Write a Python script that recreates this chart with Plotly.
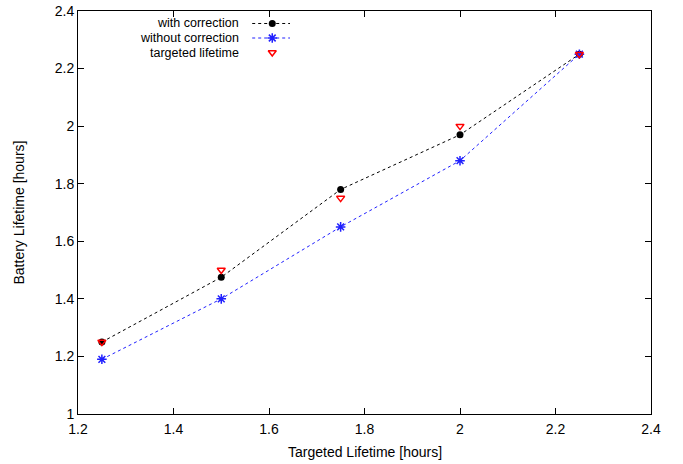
import plotly.graph_objects as go

x_vals = [1.25, 1.5, 1.75, 2.0, 2.25]
with_corr = [1.25, 1.475, 1.78, 1.97, 2.25]
without_corr = [1.19, 1.40, 1.65, 1.88, 2.25]
targeted = [1.25, 1.5, 1.75, 2.0, 2.25]
names = ["with correction", "without correction", "targeted lifetime"]
x_ticks = [1.2, 1.4, 1.6, 1.8, 2.0, 2.2, 2.4]
x_tick_text = ["1.2", "1.4", "1.6", "1.8", "2", "2.2", "2.4"]
y_ticks = [1.0, 1.2, 1.4, 1.6, 1.8, 2.0, 2.2, 2.4]
y_tick_text = ["1", "1.2", "1.4", "1.6", "1.8", "2", "2.2", "2.4"]

FONT = "Liberation Sans, Arial, Helvetica, sans-serif"
FS = 14
LFS = 12.5

fig = go.Figure()
fig.add_trace(go.Scatter(x=x_vals, y=with_corr, mode="lines+markers", name=names[0],
                         line=dict(color="black", width=1, dash="dot"),
                         marker=dict(symbol="circle", size=7, color="black")))
fig.add_trace(go.Scatter(x=x_vals, y=without_corr, mode="lines+markers", name=names[1],
                         line=dict(color="#2020ff", width=1, dash="dot"),
                         marker=dict(symbol="asterisk-open", size=8, color="#2020ff",
                                     line=dict(color="#2020ff", width=1.5))))
fig.add_trace(go.Scatter(x=x_vals, y=targeted, mode="markers", name=names[2],
                         marker=dict(symbol="triangle-down-open", size=7, color="red",
                                     line=dict(color="red", width=1.5))))

# legend samples (gnuplot style: text left, sample right)
leg_y = [0.969, 0.933, 0.897]
fig.add_trace(go.Scatter(x=[0.304, 0.339, 0.370], y=[leg_y[0]] * 3, xaxis="x2", yaxis="y2",
                         mode="lines", line=dict(color="black", width=1, dash="dot"),
                         showlegend=False, hoverinfo="skip"))
fig.add_trace(go.Scatter(x=[0.339], y=[leg_y[0]], xaxis="x2", yaxis="y2", mode="markers",
                         marker=dict(symbol="circle", size=7, color="black"),
                         showlegend=False, hoverinfo="skip"))
fig.add_trace(go.Scatter(x=[0.304, 0.339, 0.370], y=[leg_y[1]] * 3, xaxis="x2", yaxis="y2",
                         mode="lines", line=dict(color="#2020ff", width=1, dash="dot"),
                         showlegend=False, hoverinfo="skip"))
fig.add_trace(go.Scatter(x=[0.339], y=[leg_y[1]], xaxis="x2", yaxis="y2", mode="markers",
                         marker=dict(symbol="asterisk-open", size=8, color="#2020ff",
                                     line=dict(color="#2020ff", width=1.5)),
                         showlegend=False, hoverinfo="skip"))
fig.add_trace(go.Scatter(x=[0.339], y=[leg_y[2]], xaxis="x2", yaxis="y2", mode="markers",
                         marker=dict(symbol="triangle-down-open", size=7, color="red",
                                     line=dict(color="red", width=1.5)),
                         showlegend=False, hoverinfo="skip"))

annotations = []
for name, yy in zip(names, leg_y):
    annotations.append(dict(text=name, x=0.285, y=yy, xref="paper", yref="paper",
                            xanchor="right", yanchor="middle", showarrow=False,
                            font=dict(family=FONT, size=LFS, color="black")))
annotations.append(dict(text="Targeted Lifetime [hours]", x=0.5, y=0, xref="paper", yref="paper",
                        xanchor="center", yanchor="middle", yshift=-38, showarrow=False,
                        font=dict(family=FONT, size=FS, color="black")))
annotations.append(dict(text="Battery Lifetime [hours]", x=0, y=0.5, xref="paper", yref="paper",
                        xanchor="center", yanchor="middle", xshift=-60, textangle=-90,
                        showarrow=False, font=dict(family=FONT, size=FS, color="black")))

axis_common = dict(showline=True, linecolor="black", linewidth=1, mirror="ticks",
                   ticks="inside", ticklen=6, tickcolor="black", showgrid=False,
                   zeroline=False, automargin=False,
                   tickfont=dict(family=FONT, size=FS, color="black"))

fig.update_layout(
    width=683, height=464,
    margin=dict(l=78, r=32, t=11, b=50),
    plot_bgcolor="white", paper_bgcolor="white",
    showlegend=False,
    annotations=annotations,
    xaxis=dict(range=[1.2, 2.4], tickvals=x_ticks, ticktext=x_tick_text,
               ticklabelstandoff=2, **axis_common),
    yaxis=dict(range=[1.0, 2.4], tickvals=y_ticks, ticktext=y_tick_text, **axis_common),
    xaxis2=dict(range=[0, 1], overlaying="x", visible=False),
    yaxis2=dict(range=[0, 1], overlaying="y", visible=False),
)

fig.write_html("out.html", config={"displayModeBar": False},
               post_script="document.body.style.margin='0';document.body.style.padding='0';")
